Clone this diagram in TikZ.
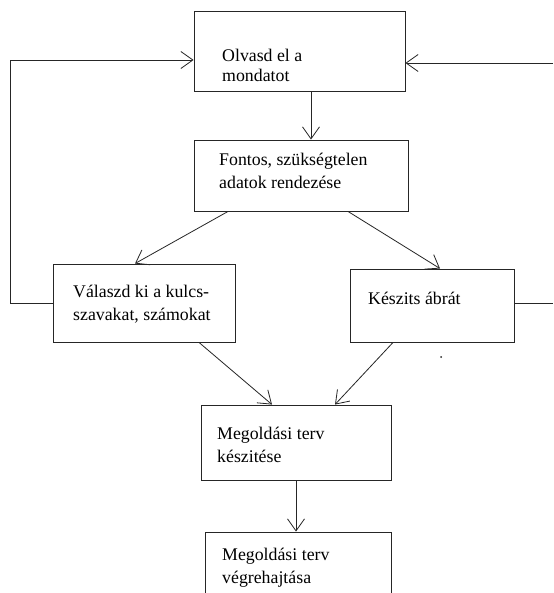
\documentclass[tikz,border=0pt]{standalone}
\usepackage{fontspec}
\setmainfont{Liberation Serif}
\usetikzlibrary{arrows.meta}
\begin{document}
\begin{tikzpicture}[x=1pt,y=-1pt,
  box/.style={draw=black!85, line width=0.9pt, rectangle, inner sep=0pt},
  txt/.style={anchor=base west, inner sep=0pt, font=\fontsize{17.8}{21}\selectfont},
  link/.style={draw=black!85, line width=0.8pt},
  arr/.style={link, -{Straight Barb[length=12pt,width=17pt]}}]
\clip (0,0) rectangle (553,593);
\fill[white] (0,0) rectangle (553,593);

% boxes
\node[box, minimum width=211pt, minimum height=80pt] (b1) at (299.5,51) {};
\node[box, minimum width=214pt, minimum height=71pt] (b2) at (301,175.5) {};
\node[box, minimum width=182pt, minimum height=78pt] (b3) at (144,303) {};
\node[box, minimum width=164pt, minimum height=73pt] (b4) at (432,305.5) {};
\node[box, minimum width=190pt, minimum height=75pt] (b5) at (296,442.5) {};
\node[box, minimum width=186pt, minimum height=100pt] (b6) at (298,582) {};

% texts
\node[txt] (t1a) at (222,62) {Olvasd el a};
\node[txt] (t1b) at (222,82) {mondatot};
\node[txt] (t2a) at (219,166) {Fontos, szükségtelen};
\node[txt] (t2b) at (219,189) {adatok rendezése};
\node[txt] (t3a) at (73,297) {Válaszd ki a kulcs-};
\node[txt] (t3b) at (73,320) {szavakat, számokat};
\node[txt] (t4a) at (368,304) {Készits ábrát};
\node[txt] (t5a) at (217,439) {Megoldási terv};
\node[txt] (t5b) at (217,462) {készitése};
\node[txt] (t6a) at (222,560) {Megoldási terv};
\node[txt] (t6b) at (222,583) {végrehajtása};

\node[circle, fill=black!85, inner sep=0pt, minimum size=2pt] (speck) at (441,357) {};

% free ends of the loop lines
\coordinate (lc) at (10,60);
\coordinate (rc1) at (553,63);
\coordinate (rc2) at (553,303);

% connectors
\draw[arr] (b1.south -| 311,0) -- (b2.north -| 311,0);
\draw[arr] (b2.south -| 228,0) -- (b3.north -| 135,0);
\draw[arr] (b2.south -| 348,0) -- (b4.north -| 440,0);
\draw[arr] (b3.south -| 199,0) -- (b5.north -| 272,0);
\draw[arr] (b4.south -| 393,0) -- (b5.north -| 335,0);
\draw[arr] (b5.south -| 296,0) -- (b6.north -| 296,0);
\draw[arr] (b3.west) -| (lc) -- (lc -| b1.west);
\draw[arr] (rc1) -- (rc1 -| b1.east);
\draw[link] (b4.east |- rc2) -- (rc2);
\end{tikzpicture}
\end{document}
